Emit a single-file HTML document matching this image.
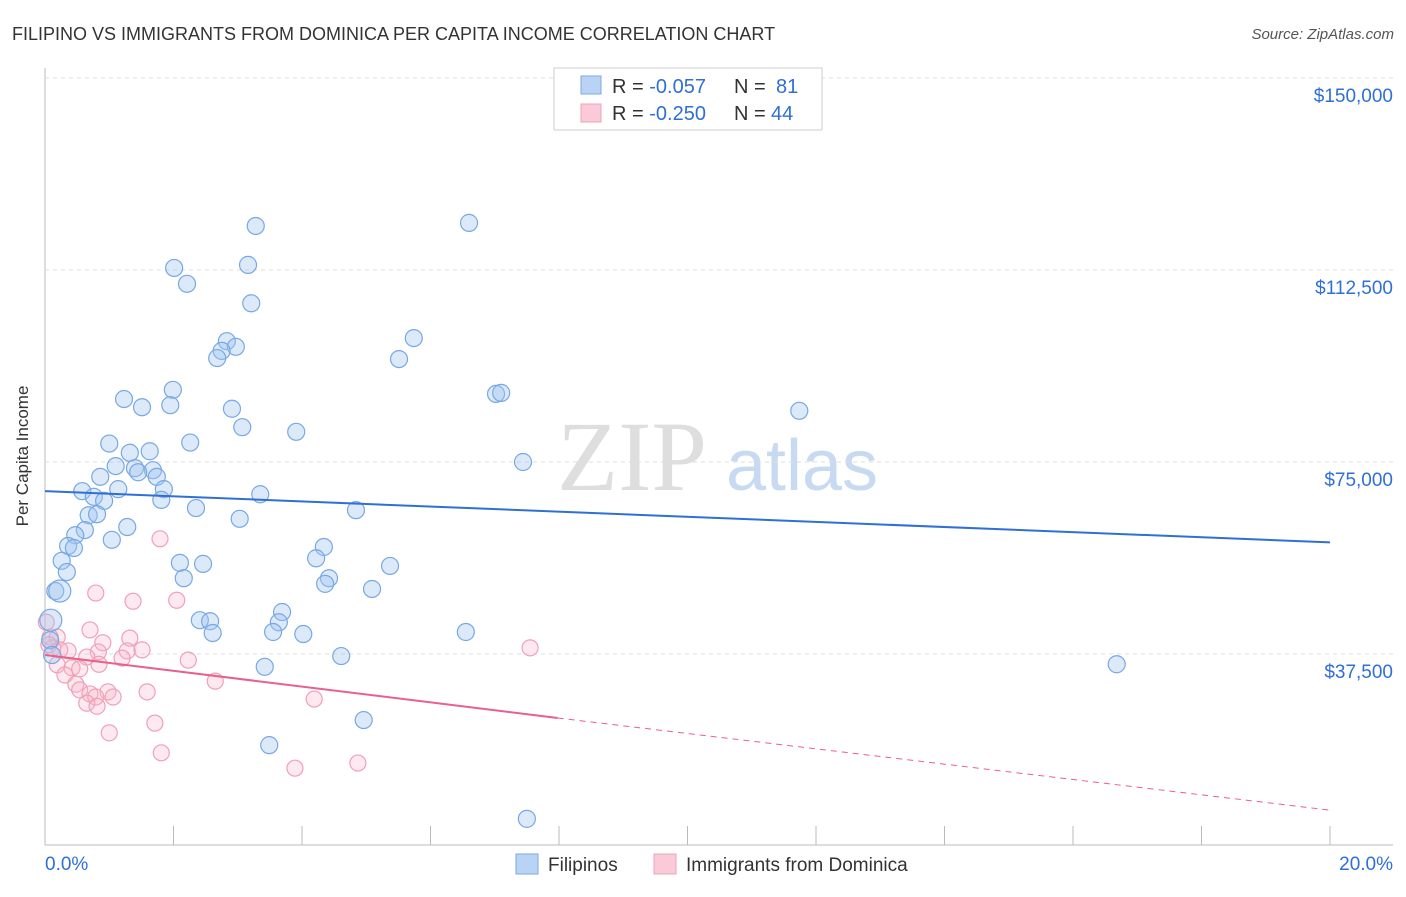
<!DOCTYPE html>
<html><head><meta charset="utf-8"><style>
body{margin:0;background:#fff;font-family:"Liberation Sans",sans-serif}
</style></head><body>
<svg id="c" width="1406" height="892" xmlns="http://www.w3.org/2000/svg" font-family="Liberation Sans, sans-serif">
<text x="12" y="40" font-size="18" fill="#333">FILIPINO VS IMMIGRANTS FROM DOMINICA PER CAPITA INCOME CORRELATION CHART</text>
<text x="1394" y="39" font-size="15" fill="#555" font-style="italic" text-anchor="end">Source: ZipAtlas.com</text>
<text x="28" y="456" font-size="17" fill="#333" text-anchor="middle" transform="rotate(-90 28 456)">Per Capita Income</text>
<text x="632" y="490" font-size="100" fill="#dedede" style="font-family:'Liberation Serif',serif" text-anchor="middle">ZIP</text>
<text x="802" y="490" font-size="72" fill="#c8daf2" text-anchor="middle">atlas</text>
<g id="grid"></g><g id="marks"></g>
<g>
<rect x="554" y="68" width="268" height="62" fill="#fff" stroke="#ccc"/>
<rect x="581" y="76" width="20" height="18" fill="#b9d3f5" stroke="#7aaae6"/>
<rect x="581" y="104" width="20" height="18" fill="#fbcad9" stroke="#f0a0b8"/>
<text x="612" y="93" font-size="20" fill="#333">R = <tspan fill="#2f6fd6">-0.057</tspan><tspan x="734">N = </tspan><tspan x="776" fill="#2f6fd6">81</tspan></text>
<text x="612" y="120" font-size="20" fill="#333">R = <tspan fill="#2f6fd6">-0.250</tspan><tspan x="734">N = </tspan><tspan x="771" fill="#2f6fd6">44</tspan></text>
</g>
<g>
<rect x="516" y="854" width="22" height="20" fill="#b9d3f5" stroke="#7aaae6"/>
<text x="548" y="871" font-size="19" fill="#333">Filipinos</text>
<rect x="654" y="854" width="22" height="20" fill="#fbcad9" stroke="#f0a0b8"/>
<text x="686" y="871" font-size="19" fill="#333">Immigrants from Dominica</text>
</g>
</svg>
<script>
const yTicks=[37500,75000,112500,150000];
const yTickLabels=["$37,500","$75,000","$112,500","$150,000"];
const xTickLabels=["0.0%","20.0%"];
const blueX=[3.28,6.60,2.01,3.16,2.21,3.21,5.74,2.83,2.97,2.75,2.68,5.51,1.99,7.02,7.10,1.23,1.51,1.95,2.91,11.74,3.07,3.91,1.00,2.26,1.63,1.32,7.44,1.10,1.40,1.68,1.45,0.86,1.74,1.14,1.85,0.58,0.76,3.35,0.92,1.81,2.35,4.84,0.68,0.81,3.03,1.28,0.62,0.47,1.04,0.36,0.45,4.34,4.22,0.26,2.10,2.46,5.37,0.34,2.16,4.42,4.36,5.09,0.16,0.23,3.69,2.41,2.57,3.64,0.09,2.61,3.55,4.02,6.55,0.08,4.61,3.42,16.68,4.96,3.49,7.50,0.11];
const blueY=[121.1,121.7,112.9,113.5,109.8,106.0,99.2,98.6,97.5,96.7,95.3,95.1,89.1,88.3,88.5,87.3,85.7,86.1,85.4,85.0,81.8,80.9,78.6,78.8,77.1,76.8,75.0,74.2,73.8,73.4,73.0,72.1,72.1,69.7,69.7,69.3,68.2,68.7,67.4,67.6,66.0,65.6,64.6,64.8,63.9,62.3,61.7,60.7,59.8,58.6,58.2,58.4,56.2,55.7,55.3,55.1,54.7,53.5,52.3,52.3,51.2,50.2,49.8,49.8,45.7,44.1,43.9,43.7,44.1,41.6,41.8,41.4,41.8,40.2,37.1,35.0,35.5,24.6,19.7,5.3,37.3];
const pinkX=[1.79,0.79,1.37,2.05,0.70,0.02,1.32,0.90,0.19,7.55,1.51,1.28,0.83,0.36,0.12,0.65,1.20,2.23,0.84,0.19,0.42,0.54,0.31,2.65,0.48,0.54,0.98,1.59,0.70,1.06,0.79,4.19,0.65,0.81,1.71,1.00,1.81,3.89,4.87,0.08,0.06,0.23];
const pinkY=[60.0,49.4,47.8,48.0,42.2,43.7,40.6,39.7,40.8,38.7,38.3,38.1,37.9,38.1,38.7,36.9,36.7,36.3,35.5,35.4,34.8,34.6,33.4,32.2,31.6,30.5,30.1,30.1,29.7,29.1,29.1,28.7,27.9,27.3,24.0,22.1,18.2,15.2,16.2,40.8,39.3,38.3];
const blueTrend=[69.3,59.3];
const pinkTrend=[37.3,25.0,7.0];
const pinkSolidEnd=7.98;
const NS="http://www.w3.org/2000/svg";
const X=v=>45+v/20*1285;
const Y=v=>846-v*1000/37500*192;
function mk(t,a,p){const e=document.createElementNS(NS,t);for(const k in a)e.setAttribute(k,a[k]);p.appendChild(e);return e;}
const grid=document.getElementById('grid'),marks=document.getElementById('marks');
const ax=mk('line',{x1:45,y1:68,x2:45,y2:845,stroke:'#bbb'},grid);


const bx=mk('line',{x1:45,y1:845,x2:1393,y2:845,stroke:'#bbb'},grid);


for(let i=0;i<=10;i++){const t=mk('line',{x1:X(i*2),y1:826,x2:X(i*2),y2:845,stroke:'#bbb'},grid);

}
yTicks.forEach((v,i)=>{const y=Y(v/1000);
const g=mk('line',{x1:45,y1:y,x2:1393,y2:y,stroke:'#ddd','stroke-dasharray':'4,4'},grid);


const t=mk('text',{x:1393,y:y+24,'font-size':19,fill:'#2f6fd6','text-anchor':'end'},grid);t.textContent=yTickLabels[i];

});
xTickLabels.forEach((l,i)=>{const t=mk('text',{x:i?1393:45,y:870,'font-size':19,fill:'#2f6fd6','text-anchor':i?'end':'start'},grid);t.textContent=l;

});
pinkX.forEach((x,i)=>{const c=mk('circle',{cx:X(x),cy:Y(pinkY[i]),r:8,fill:'rgba(248,182,202,0.3)',stroke:'#f0a0b8','stroke-width':1.2},marks);

});
blueX.forEach((x,i)=>{const c=mk('circle',{cx:X(x),cy:Y(blueY[i]),r:(i==63||i==68)?11:8.5,fill:'rgba(160,196,240,0.38)',stroke:'#78a8e4','stroke-width':1.2},marks);

});
const bl=mk('line',{x1:X(0),y1:Y(blueTrend[0]),x2:X(20),y2:Y(blueTrend[1]),stroke:'#2f6fd6','stroke-width':2},marks);


const pl=mk('line',{x1:X(0),y1:Y(pinkTrend[0]),x2:X(pinkSolidEnd),y2:Y(pinkTrend[1]),stroke:'#e8608c','stroke-width':2},marks);


const pd=mk('line',{x1:X(pinkSolidEnd),y1:Y(pinkTrend[1]),x2:X(20),y2:Y(pinkTrend[2]),stroke:'#e8608c','stroke-width':1,'stroke-dasharray':'6,5'},marks);


</script>
</body></html>
